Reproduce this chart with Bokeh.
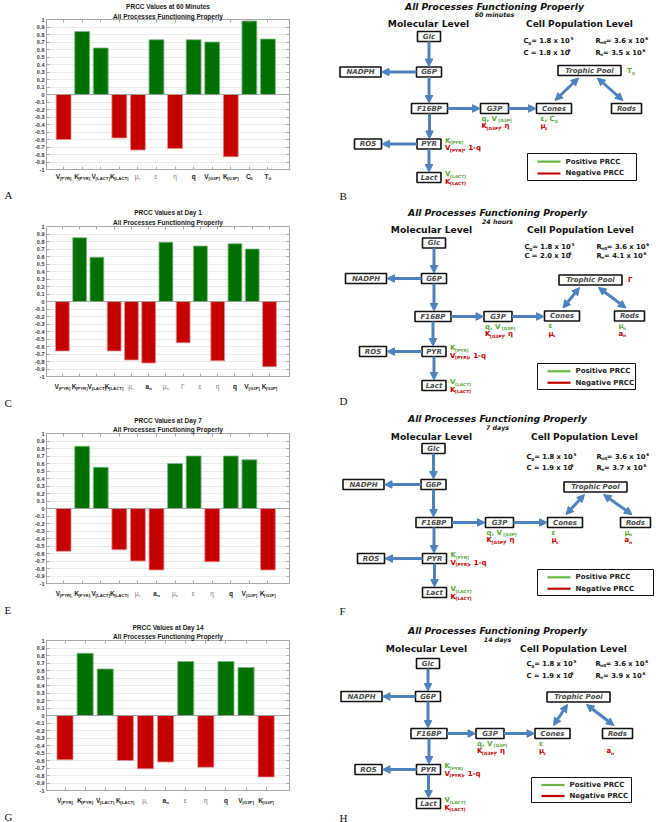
import re
from bokeh.plotting import figure
from bokeh.models import Range1d, FixedTicker, LinearAxis, Span, Arrow, NormalHead, ColumnDataSource, Title
from bokeh.layouts import column, row
from bokeh.embed import file_html
from bokeh.resources import INLINE
from bokeh.core.properties import value

# ---------------- DATA ----------------
bar_titles = ["PRCC Values at 60 Minutes", "PRCC Values at Day 1",
              "PRCC Values at Day 7", "PRCC Values at Day 14"]
bar_subtitle = "All Processes Functioning Properly"

params_60min = ["V_{[PYR]}", "K_{[PYR]}", "V_{[LACT]}", "K_{[LACT]}", "μ_{c}", "ε", "η", "q",
                "V_{[G3P]}", "K_{[G3P]}", "C_{0}", "T_{0}"]
prcc_60min = [-0.60, 0.84, 0.62, -0.58, -0.74, 0.73, -0.72, 0.73, 0.70, -0.83, 0.98, 0.74]

params_day1 = ["V_{[PYR]}", "K_{[PYR]}", "V_{[LACT]}", "K_{[LACT]}", "μ_{c}", "a_{n}", "μ_{n}", "Γ",
               "ε", "η", "q", "V_{[G3P]}", "K_{[G3P]}"]
prcc_day1 = [-0.66, 0.85, 0.59, -0.66, -0.78, -0.82, 0.79, -0.55, 0.74, -0.79, 0.77, 0.70, -0.87]

params_day7 = ["V_{[PYR]}", "K_{[PYR]}", "V_{[LACT]}", "K_{[LACT]}", "μ_{c}", "a_{n}", "μ_{n}",
               "ε", "η", "q", "V_{[G3P]}", "K_{[G3P]}"]
prcc_day7 = [-0.57, 0.83, 0.55, -0.55, -0.70, -0.82, 0.60, 0.70, -0.71, 0.70, 0.65, -0.82]

params_day14 = ["V_{[PYR]}", "K_{[PYR]}", "V_{[LACT]}", "K_{[LACT]}", "μ_{c}", "a_{n}",
                "ε", "η", "q", "V_{[G3P]}", "K_{[G3P]}"]
prcc_day14 = [-0.59, 0.83, 0.62, -0.60, -0.71, -0.62, 0.72, -0.69, 0.72, 0.64, -0.82]

ytick_values = [1.0, 0.9, 0.8, 0.7, 0.6, 0.5, 0.4, 0.3, 0.2, 0.1, 0.0,
                -0.1, -0.2, -0.3, -0.4, -0.5, -0.6, -0.7, -0.8, -0.9, -1.0]
ytick_labels = ["1", "0.9", "0.8", "0.7", "0.6", "0.5", "0.4", "0.3", "0.2", "0.1", "0",
                "-0.1", "-0.2", "-0.3", "-0.4", "-0.5", "-0.6", "-0.7", "-0.8", "-0.9", "-1"]

diagram_title = "All Processes Functioning Properly"
diagram_times = ["60 minutes", "24 hours", "7 days", "14 days"]
level_headers = ["Molecular Level", "Cell Population Level"]
species = ["Glc", "G6P", "NADPH", "F16BP", "G3P", "Cones", "Rods", "Trophic Pool", "ROS", "PYR", "Lact"]
fluxes = [("Glc", "G6P"), ("G6P", "NADPH"), ("G6P", "F16BP"), ("F16BP", "G3P"), ("G3P", "Cones"),
          ("F16BP", "PYR"), ("PYR", "ROS"), ("PYR", "Lact")]
exchanges = [("Trophic Pool", "Cones"), ("Trophic Pool", "Rods")]
cones_initial = ["1.8", "1.8", "1.8", "1.8"]
cones_final = ["1.8", "2.0", "1.9", "1.9"]
rods_initial = ["3.6", "3.6", "3.6", "3.6"]
rods_final = ["3.5", "4.1", "3.7", "3.9"]
positive_params = [
    {"G3P": "q,  V_{[G3P]}", "Cones": "ε, C_{0}", "PYR": "K_{[PYR]}", "Lact": "V_{[LACT]}", "Trophic Pool": "T_{0}"},
    {"G3P": "q,  V_{[G3P]}", "Cones": "ε", "Rods": "μ_{n}", "PYR": "K_{[PYR]}", "Lact": "V_{[LACT]}"},
    {"G3P": "q,  V_{[G3P]}", "Cones": "ε", "Rods": "μ_{n}", "PYR": "K_{[PYR]}", "Lact": "V_{[LACT]}"},
    {"G3P": "q,  V_{[G3P]}", "Cones": "ε", "PYR": "K_{[PYR]}", "Lact": "V_{[LACT]}"},
]
negative_params = [
    {"G3P": "K_{[G3P]}, η", "Cones": "μ_{c}", "PYR": "V_{[PYR]}, 1-q", "Lact": "K_{[LACT]}"},
    {"G3P": "K_{[G3P]}, η", "Cones": "μ_{c}", "Rods": "a_{n}", "PYR": "V_{[PYR]}, 1-q", "Lact": "K_{[LACT]}",
     "Trophic Pool": "Γ"},
    {"G3P": "K_{[G3P]}, η", "Cones": "μ_{c}", "Rods": "a_{n}", "PYR": "V_{[PYR]}, 1-q", "Lact": "K_{[LACT]}"},
    {"G3P": "K_{[G3P]}, η", "Cones": "μ_{c}", "Rods": "a_{n}", "PYR": "V_{[PYR]}, 1-q", "Lact": "K_{[LACT]}"},
]
legend_labels = ["Positive PRCC", "Negative PRCC"]
bar_letters = ["A", "C", "E", "G"]
diagram_letters = ["B", "D", "F", "H"]

# ---------------- STYLE / LAYOUT ----------------
W_COL = 328
REF_H = [200, 210, 205, 207]
GREEN_BAR, RED_BAR = "#007000", "#c40000"
GREEN_EDGE, RED_EDGE = "#7fb87f", "#e89090"
FRAME_C = "#a8a8a8"
BLUE = "#4f81bd"
GREEN_TXT, RED_TXT = "#5aa83c", "#c00000"
GREEN_LEG, RED_LEG = "#6cb446", "#c00000"
BOX_TXT = "#4a4a4a"


def parse_rich(s):
    runs, pos = [], 0
    for m in re.finditer(r'([_^])\{([^}]*)\}', s):
        if m.start() > pos:
            runs.append((s[pos:m.start()], 'n'))
        runs.append((m.group(2), 'sub' if m.group(1) == '_' else 'sup'))
        pos = m.end()
    if pos < len(s):
        runs.append((s[pos:], 'n'))
    return runs


def char_w(c):
    if c in "il|!:;'": return 0.34
    if c in ".,": return 0.38
    if c == " ": return 0.35
    if c in "[]()": return 0.46
    if c in "rtfj": return 0.48
    if c == "-": return 0.42
    if c in "mwMW": return 1.0
    if c in "=+": return 0.84
    if c.isdigit(): return 0.70
    if c.isupper(): return 0.75
    return 0.68


def rich_runs(s, size, f=1.0, sub_scale=0.62):
    out, x = [], 0.0
    for t, kind in parse_rich(s):
        sz = size if kind == 'n' else size * sub_scale
        out.append((x, t, sz, kind))
        x += sum(char_w(c) for c in t) * sz * f
    return out, x


def blank_fig(**kw):
    p = figure(toolbar_location=None, output_backend="svg", title=None,
               x_axis_location=None, y_axis_location=None, **kw)
    p.xgrid.visible = False
    p.ygrid.visible = False
    p.outline_line_color = None
    p.background_fill_color = "white"
    p.border_fill_color = "white"
    return p


# ---------------- BAR PANELS ----------------
bar_geom = [
    dict(top=18, bot=169, t1=4, t2=13, lab=176, let=194),
    dict(top=26, bot=176, t1=9, t2=20, lab=186, let=201),
    dict(top=23, bot=173, t1=8, t2=17, lab=183, let=199),
    dict(top=25, bot=175, t1=10, t2=19, lab=185, let=201),
]
ML, MR = 46, W_COL - 289


def bar_panel(idx, title, labels, vals, letter):
    rh, g = REF_H[idx], bar_geom[idx]
    top = g['top']
    fh = g['bot'] - g['top']
    HB = top + fh + 3
    HL = rh - HB
    LB = rh - (g['let'] - 7)
    fw = W_COL - ML - MR
    n = len(vals)
    x0, x1 = 0.08, n + 1.16
    xr = Range1d(x0, x1)
    p = figure(width=W_COL, height=HB, x_range=xr, y_range=Range1d(-1, 1),
               min_border_left=ML, min_border_right=MR, min_border_top=top, min_border_bottom=3,
               toolbar_location=None, output_backend="svg", title=None)
    p.background_fill_color = "white"
    p.border_fill_color = "white"
    p.outline_line_color = FRAME_C
    ticks_x = list(range(1, n + 1))

    p.xaxis.ticker = FixedTicker(ticks=ticks_x)
    p.xaxis.major_label_overrides = {t: "" for t in ticks_x}
    p.xaxis.major_label_text_font_size = "1px"
    p.xaxis.major_label_standoff = 0
    p.yaxis.ticker = FixedTicker(ticks=ytick_values)
    p.yaxis.major_label_overrides = dict(zip(ytick_values, ytick_labels))
    p.yaxis.major_label_text_font_size = "5.5px"
    p.yaxis.major_label_text_font = "Liberation Sans"
    p.yaxis.major_label_text_font_style = "bold"
    p.yaxis.major_label_text_color = "#333333"
    p.yaxis.major_label_standoff = 2
    for ax in (p.xaxis, p.yaxis):
        ax.major_tick_in = 3
        ax.major_tick_out = 0
        ax.minor_tick_line_color = None
        ax.axis_line_color = FRAME_C
        ax.major_tick_line_color = FRAME_C
    top_ax = LinearAxis(ticker=FixedTicker(ticks=ticks_x), major_label_overrides={t: "" for t in ticks_x},
                        major_label_text_font_size="1px", major_label_standoff=0, major_tick_in=3,
                        major_tick_out=0, minor_tick_line_color=None, axis_line_color=FRAME_C,
                        major_tick_line_color=FRAME_C)
    p.add_layout(top_ax, "above")
    right_ax = LinearAxis(ticker=FixedTicker(ticks=ytick_values),
                          major_label_overrides={t: "" for t in ytick_values},
                          major_label_text_font_size="1px", major_label_standoff=0, major_tick_in=3,
                          major_tick_out=0, minor_tick_line_color=None, axis_line_color=FRAME_C,
                          major_tick_line_color=FRAME_C)
    p.add_layout(right_ax, "right")

    p.ygrid.ticker = FixedTicker(ticks=ytick_values)
    p.ygrid.grid_line_color = "#ebebeb"
    p.xgrid.visible = False

    src = ColumnDataSource(dict(
        x=ticks_x, top=vals,
        fill=[GREEN_BAR if v > 0 else RED_BAR for v in vals],
        edge=[GREEN_EDGE if v > 0 else RED_EDGE for v in vals]))
    p.vbar(x='x', top='top', bottom=0, width=0.8, fill_color='fill', line_color='edge',
           line_width=0.8, source=src)
    p.add_layout(Span(location=0, dimension='width', line_color="#999999", line_width=0.8))

    # two-line title (sub first: closest to the frame)
    fs = 6.5
    th = fs * 1.15
    axis_h = 2
    s2 = max(0.0, top - g['t2'] - th / 2 - axis_h)
    s1 = max(0.0, (top - g['t1'] - th / 2) - (axis_h + s2 + th))
    p.add_layout(Title(text=bar_subtitle, align="center", text_font="Liberation Sans",
                       text_font_size=f"{fs}px", text_font_style="bold", text_color="#1a1a1a",
                       standoff=s2), "above")
    p.add_layout(Title(text=title, align="center", text_font="Liberation Sans",
                       text_font_size=f"{fs}px", text_font_style="bold", text_color="#1a1a1a",
                       standoff=s1), "above")

    # category label strip (same x range and borders as the chart)
    q = figure(width=W_COL, height=HL, x_range=xr, y_range=Range1d(rh - LB, HB),
               min_border_left=ML, min_border_right=MR, min_border_top=0, min_border_bottom=LB,
               toolbar_location=None, output_backend="svg", title=None,
               x_axis_location=None, y_axis_location=None)
    q.xgrid.visible = False
    q.ygrid.visible = False
    q.outline_line_color = None
    q.background_fill_color = "white"
    q.border_fill_color = "white"
    upx = (x1 - x0) / fw
    T = dict(x=[], y=[], text=[], size=[], color=[], style=[])
    bs = 6.5
    for i, lab in enumerate(labels):
        greek = lab[0] in "μεηΓ"
        runs, total = rich_runs(lab, bs, f=0.86, sub_scale=0.66)
        start = ticks_x[i] - total / 2 * upx
        for off, t, sz, kind in runs:
            T['x'].append(start + off * upx)
            T['y'].append(g['lab'] + (0.36 * bs if kind == 'sub' else 0))
            T['text'].append(t)
            T['size'].append(f"{sz:.1f}px")
            T['color'].append("#777777" if greek else "#222222")
            T['style'].append("normal" if greek else "bold")
    q.text(x='x', y='y', text='text', text_font_size='size', text_color='color',
           text_font_style='style', text_align='left', text_baseline='middle',
           text_font=value("Liberation Sans"), source=ColumnDataSource(T))
    q.add_layout(Title(text=letter, align="left", offset=-(ML - 4), text_font="Liberation Serif",
                       text_font_size="11px", text_font_style="normal", text_color="#111111",
                       standoff=0), "below")
    return [p, q]


# ---------------- DIAGRAM PANELS ----------------
NODE_W = {"Glc": 23, "G6P": 25, "NADPH": 41, "F16BP": 36, "G3P": 28, "Cones": 35, "Rods": 30,
          "Trophic Pool": 63, "ROS": 27, "PYR": 24, "Lact": 24}
NODE_H = 10
BELOW_OFF = {"G3P": 1, "Cones": 4, "Rods": 4}

diag_layout = [
    dict(nodes={"Glc": (100.5, 36), "G6P": (100.5, 71.5), "NADPH": (32, 71.5), "F16BP": (101, 108),
                "G3P": (166, 108), "Cones": (225.5, 108), "Rods": (298, 108), "Trophic Pool": (261, 70),
                "ROS": (39.5, 143.5), "PYR": (100.5, 143.5), "Lact": (100.5, 177)},
         title=(166, 6), sub_y=14, head_y=23, mol_x=100, cell_x=251, pop=(195, 267, 40, 52),
         legend=(199, 308, 153, 180), letter_y=195),
    dict(nodes={"Glc": (105.5, 42.5), "G6P": (105.5, 78), "NADPH": (37.5, 78), "F16BP": (104.5, 116),
                "G3P": (169.5, 116), "Cones": (233.5, 115.5), "Rods": (301, 115.5),
                "Trophic Pool": (262, 79.5), "ROS": (44.5, 151), "PYR": (105.5, 151), "Lact": (105.5, 185)},
         title=(169, 12), sub_y=21, head_y=29, mol_x=103, cell_x=252, pop=(196, 268, 46, 55),
         legend=(209, 307, 163, 189), letter_y=200),
    dict(nodes={"Glc": (105, 38), "G6P": (105, 74), "NADPH": (35, 74), "F16BP": (105.5, 112),
                "G3P": (171, 112), "Cones": (236.5, 112), "Rods": (307, 112), "Trophic Pool": (267, 76.5),
                "ROS": (42.5, 148), "PYR": (106, 148), "Lact": (106, 182)},
         title=(169, 8), sub_y=17, head_y=26, mol_x=103, cell_x=256, pop=(198, 268, 46, 57),
         legend=(209, 325, 159, 185), letter_y=200),
    dict(nodes={"Glc": (99.5, 48), "G6P": (99.5, 81), "NADPH": (33, 81), "F16BP": (100.5, 118),
                "G3P": (161.5, 118), "Cones": (224, 118), "Rods": (289, 118), "Trophic Pool": (250, 81.5),
                "ROS": (40, 154), "PYR": (100, 154), "Lact": (100, 188)},
         title=(169, 15), sub_y=24, head_y=33, mol_x=98, cell_x=245, pop=(198, 267, 48, 60),
         legend=(203, 303, 162, 187), letter_y=202),
]


def diagram_panel(idx):
    rh, L = REF_H[idx], diag_layout[idx]
    p = blank_fig(width=W_COL, height=rh, x_range=Range1d(0, W_COL), y_range=Range1d(rh, 0), min_border=0)
    T = dict(x=[], y=[], text=[], size=[], color=[], style=[], align=[])

    def add_text(x, y, s, size, color, style="bold", align="left", sub_scale=0.62):
        runs, total = rich_runs(s, size, f=0.95, sub_scale=sub_scale)
        if len(runs) == 1 and runs[0][3] == 'n':
            items = [(x, y, s, size, align)]
        else:
            start = x - (total / 2 if align == "center" else 0)
            items = []
            for off, t, sz, kind in runs:
                yy = y + (0.34 * size if kind == 'sub' else (-0.38 * size if kind == 'sup' else 0))
                items.append((start + off, yy, t, sz, "left"))
        for xx, yy, t, sz, al in items:
            T['x'].append(xx); T['y'].append(yy); T['text'].append(t)
            T['size'].append(f"{sz:.1f}px"); T['color'].append(color)
            T['style'].append(style); T['align'].append(al)

    nodes = L['nodes']
    head = dict(size=7.5, fill_color=BLUE, line_color=BLUE, line_width=1)
    lw = 3.0
    for a, b in fluxes:
        ax_, ay_ = nodes[a]
        bx_, by_ = nodes[b]
        if abs(ay_ - by_) < 3:
            sgn = 1 if bx_ > ax_ else -1
            xs, xe = ax_ + sgn * NODE_W[a] / 2, bx_ - sgn * (NODE_W[b] / 2 + 0.5)
            p.add_layout(Arrow(end=NormalHead(**head), x_start=xs, y_start=ay_, x_end=xe, y_end=ay_,
                               line_color=BLUE, line_width=lw))
        else:
            ys, ye = ay_ + NODE_H / 2, by_ - NODE_H / 2 - 0.5
            p.add_layout(Arrow(end=NormalHead(**head), x_start=ax_, y_start=ys, x_end=ax_, y_end=ye,
                               line_color=BLUE, line_width=lw))
    tx, ty = nodes["Trophic Pool"]
    for a, b in exchanges:
        bx_, by_ = nodes[b]
        if b == "Cones":
            xs, ys, xe, ye = tx - 11, ty + 7.5, bx_ + 1, by_ - 8
        else:
            xs, ys, xe, ye = tx + 8, ty + 7.5, bx_ - 3.5, by_ - 8
        p.add_layout(Arrow(start=NormalHead(**head), end=NormalHead(**head), x_start=xs, y_start=ys,
                           x_end=xe, y_end=ye, line_color=BLUE, line_width=lw))

    bsrc = ColumnDataSource(dict(x=[nodes[s][0] for s in species], y=[nodes[s][1] for s in species],
                                 w=[NODE_W[s] for s in species], h=[NODE_H] * len(species)))
    p.rect(x='x', y='y', width='w', height='h', fill_color="white", line_color="#111111",
           line_width=1.6, source=bsrc)
    for s in species:
        add_text(nodes[s][0], nodes[s][1], s, 7.0, BOX_TXT, "bold italic", "center")

    add_text(L['title'][0], L['title'][1], diagram_title, 9.2, "#111111", "bold italic", "center")
    add_text(L['title'][0], L['sub_y'], diagram_times[idx], 6.3, "#111111", "bold italic", "center")
    add_text(L['mol_x'], L['head_y'], level_headers[0], 9.2, "#111111", "bold", "center")
    add_text(L['cell_x'], L['head_y'], level_headers[1], 9.0, "#111111", "bold", "center")

    px1, px2, py1, py2 = L['pop']
    add_text(px1, py1, f"C_{{0}} = {cones_initial[idx]} x 10^{{5}}", 6.8, "#111111")
    add_text(px1, py2, f"C = {cones_final[idx]} x 10^{{5}}", 6.8, "#111111")
    add_text(px2, py1, f"R_{{n0}} = {rods_initial[idx]} x 10^{{6}}", 6.8, "#111111")
    add_text(px2, py2, f"R_{{n}} = {rods_final[idx]} x 10^{{6}}", 6.8, "#111111")

    for params, color, which in ((positive_params[idx], GREEN_TXT, 0), (negative_params[idx], RED_TXT, 1)):
        for node, s in params.items():
            nx, ny = nodes[node]
            if node in BELOW_OFF:
                x = nx - NODE_W[node] / 2 + BELOW_OFF[node]
                y = ny + (10 if which == 0 else 17.5)
            elif node == "Trophic Pool":
                x = nx + NODE_W[node] / 2 + 6
                y = ny
            else:
                x = nx + NODE_W[node] / 2 + 4
                y = ny + (-3.5 if which == 0 else 4)
            add_text(x, y, s, 7.0, color, "bold")

    lx0, lx1, ly0, ly1 = L['legend']
    p.quad(left=[lx0], right=[lx1], top=[ly0], bottom=[ly1], fill_color="white", line_color="#111111",
           line_width=1.0)
    lh = ly1 - ly0
    for k, (lab, col) in enumerate(zip(legend_labels, (GREEN_LEG, RED_LEG))):
        yy = ly0 + lh * (0.3 if k == 0 else 0.74)
        p.segment(x0=[lx0 + 10], y0=[yy], x1=[lx0 + 33], y1=[yy], line_color=col, line_width=2.2)
        add_text(lx0 + 38, yy, lab, 7.0, "#222222", "bold")

    p.text(x='x', y='y', text='text', text_font_size='size', text_color='color',
           text_font_style='style', text_align='align', text_baseline='middle',
           text_font=value("DejaVu Sans"), source=ColumnDataSource(T))
    p.text(x=[11], y=[L['letter_y']], text=[diagram_letters[idx]], text_font_size="11px",
           text_color="#111111", text_align="left", text_baseline="middle",
           text_font=value("Liberation Serif"))
    return p


bar_sets = [(params_60min, prcc_60min), (params_day1, prcc_day1),
            (params_day7, prcc_day7), (params_day14, prcc_day14)]
left_children = []
right_children = []
for i in range(4):
    left_children += bar_panel(i, bar_titles[i], bar_sets[i][0], bar_sets[i][1], bar_letters[i])
    right_children.append(diagram_panel(i))
layout = row(column(*left_children), column(*right_children))

open("out.html", "w").write(file_html(layout, INLINE))
